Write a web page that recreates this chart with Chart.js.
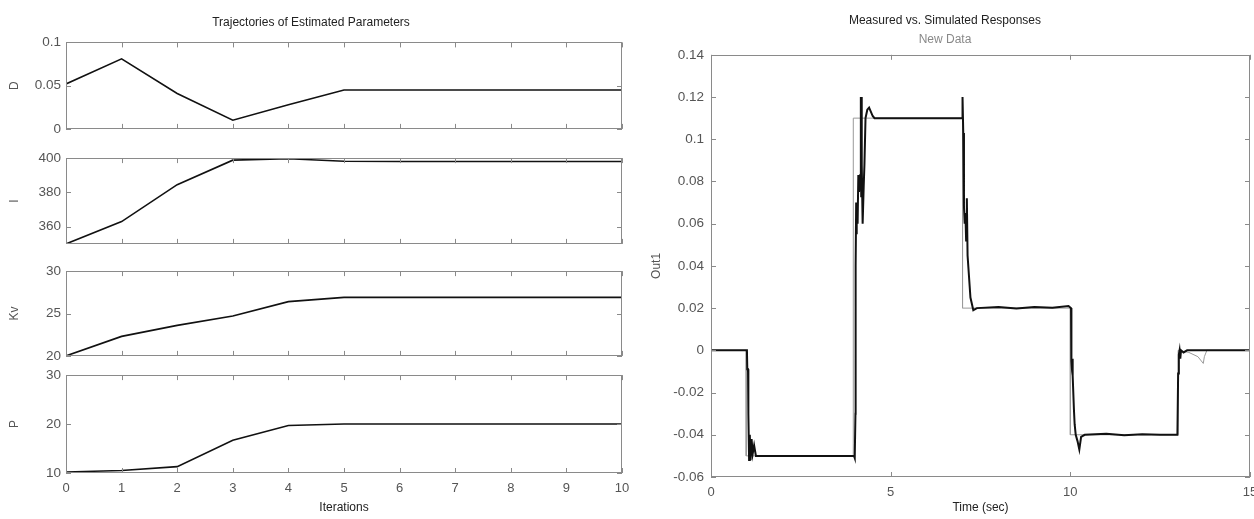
<!DOCTYPE html>
<html>
<head>
<meta charset="utf-8">
<script src="https://cdn.jsdelivr.net/npm/chart.js@4"></script>
<style>
  html, body { margin: 0; padding: 0; background: #fff; }
  body { width: 1254px; height: 519px; position: relative; overflow: hidden; }
  canvas { position: absolute; }
</style>
</head>
<body>
<canvas id="pD" width="640" height="142" style="left:0px;top:0px"></canvas>
<canvas id="pI" width="640" height="112" style="left:0px;top:145px"></canvas>
<canvas id="pKv" width="640" height="111" style="left:0px;top:258px"></canvas>
<canvas id="pP" width="640" height="157" style="left:0px;top:362px"></canvas>
<canvas id="resp" width="614" height="519" style="left:640px;top:0px"></canvas>
<script>
'use strict';

// --- datos ---
const ITERATIONS = [0, 1, 2, 3, 4, 5, 6, 7, 8, 9, 10];
const D_VALUES = [0.052, 0.081, 0.041, 0.010, 0.028, 0.045, 0.045, 0.045, 0.045, 0.045, 0.045];
const I_VALUES = [350, 363, 384.5, 398.8, 399.6, 398.2, 398, 398, 398, 398, 398];
const KV_VALUES = [20, 22.3, 23.6, 24.7, 26.4, 26.9, 26.9, 26.9, 26.9, 26.9, 26.9];
const P_VALUES = [10.2, 10.5, 11.3, 16.7, 19.7, 20, 20, 20, 20, 20, 20];

const D_TICKS = [0, 0.05, 0.1];
const I_TICKS = [360, 380, 400];
const KV_TICKS = [20, 25, 30];
const P_TICKS = [10, 20, 30];
const ITER_TICKS = [0, 1, 2, 3, 4, 5, 6, 7, 8, 9, 10];

// respuesta medida (escalón, gris fino)
const MEAS_T = [0, 0.98, 0.98, 3.96, 3.96, 7.0, 7.0, 10.0, 10.0, 13.0, 13.0, 13.3, 13.55, 13.7, 13.73, 13.8, 15];
const MEAS_Y = [0, 0, -0.05, -0.05, 0.11, 0.11, 0.02, 0.02, -0.04, -0.04, 0, -0.001, -0.003, -0.0062, -0.003, 0, 0];

// respuesta simulada (negro, con oscilaciones)
const SIM_T = [0, 1.0, 1.01, 1.03, 1.04, 1.06, 1.08, 1.1, 1.13, 1.16, 1.2, 1.25, 1.3, 2, 3, 3.98, 4.0,
  4.02, 4.02, 4.03, 4.04, 4.05, 4.06, 4.08, 4.1, 4.12, 4.15, 4.17, 4.18, 4.19, 4.2, 4.22, 4.25, 4.27, 4.3, 4.35, 4.4, 4.5, 4.55,
  7.0, 7.0, 7.02, 7.04, 7.06, 7.08, 7.1, 7.12, 7.14, 7.18, 7.22, 7.3, 7.4, 8.0, 8.5, 9.0, 9.5, 9.95, 10.02,
  10.03, 10.05, 10.06, 10.07, 10.1, 10.12, 10.15, 10.2, 10.25, 10.3, 10.4, 11, 11.5, 12, 12.5, 12.98,
  13.0, 13.02, 13.04, 13.06, 13.08, 13.15, 13.25, 15];
const SIM_Y = [0, 0, -0.009, -0.009, -0.03, -0.052, -0.04, -0.052, -0.042, -0.049, -0.045, -0.05, -0.05, -0.05, -0.05, -0.05, -0.051,
  -0.03, 0.016, 0.04, 0.07, 0.055, 0.07, 0.06, 0.083, 0.075, 0.083, 0.12, 0.073, 0.12, 0.088, 0.06, 0.078, 0.088, 0.11, 0.114, 0.115, 0.111, 0.11,
  0.11, 0.12, 0.103, 0.068, 0.06, 0.065, 0.052, 0.072, 0.045, 0.035, 0.025, 0.019, 0.02, 0.0205, 0.0198, 0.0205, 0.0202, 0.021, 0.02,
  -0.005, -0.01, -0.004, -0.012, -0.028, -0.035, -0.04, -0.043, -0.047, -0.041, -0.04, -0.0395, -0.0402, -0.0398, -0.04, -0.04,
  -0.011, -0.002, 0.0, -0.004, 0.0, -0.001, 0, 0];

const RESP_Y_TICKS = [-0.06, -0.04, -0.02, 0, 0.02, 0.04, 0.06, 0.08, 0.1, 0.12, 0.14];
const RESP_X_TICKS = [0, 5, 10, 15];

// --- estilo ---
const FONT = 'Liberation Sans, Arial, sans-serif';
const FRAME_COLOR = '#8a8a8a';
const LABEL_COLOR = '#555';
const LINE_COLOR = '#111';

Chart.defaults.font.family = FONT;
Chart.defaults.animation = false;

// marco y ticks hacia dentro, estilo MATLAB
const frameTicks = {
  id: 'frameTicks',
  afterDatasetsDraw(chart) {
    const { ctx, chartArea: a, scales } = chart;
    ctx.save();
    ctx.strokeStyle = FRAME_COLOR;
    ctx.lineWidth = 1;
    ctx.strokeRect(Math.round(a.left) + 0.5, Math.round(a.top) + 0.5, Math.round(a.right - a.left) - 1, Math.round(a.bottom - a.top) - 1);
    ctx.beginPath();
    scales.x.ticks.forEach((t) => {
      const px = Math.round(scales.x.getPixelForValue(t.value)) + 0.5;
      ctx.moveTo(px, a.bottom); ctx.lineTo(px, a.bottom - 5);
      ctx.moveTo(px, a.top); ctx.lineTo(px, a.top + 5);
    });
    scales.y.ticks.forEach((t) => {
      const py = Math.round(scales.y.getPixelForValue(t.value)) + 0.5;
      ctx.moveTo(a.left, py); ctx.lineTo(a.left + 5, py);
      ctx.moveTo(a.right, py); ctx.lineTo(a.right - 5, py);
    });
    ctx.stroke();
    ctx.restore();
  },
};

const fmt = (v) => String(+Number(v).toFixed(4));
const fixedTicks = (arr) => (scale) => { scale.ticks = arr.map((v) => ({ value: v })); };
// altura fija del eje x, sin reservar hueco por las etiquetas de los extremos
const fixedXHeight = (h) => (s) => { s.height = h; s.paddingLeft = 0; s.paddingRight = 0; };

function toPoints(xs, ys) {
  return xs.map((x, i) => ({ x, y: ys[i] }));
}

function paramPanel(id, label, values, yMin, yMax, yTicks, opts = {}) {
  const showX = !!opts.showX;
  return new Chart(document.getElementById(id), {
    type: 'scatter',
    data: {
      datasets: [{
        data: toPoints(ITERATIONS, values),
        showLine: true,
        borderColor: LINE_COLOR,
        borderWidth: 1.6,
        pointRadius: 0,
        tension: 0,
      }],
    },
    options: {
      responsive: false,
      layout: { padding: { top: opts.padTop ?? 10, bottom: showX ? 0 : 10, right: 18, left: 0 } },
      plugins: {
        legend: { display: false },
        tooltip: { enabled: false },
        title: opts.title
          ? { display: true, text: opts.title, color: '#222', font: { size: 12, weight: 'normal' }, padding: { top: 15, bottom: 13 } }
          : { display: false },
      },
      scales: {
        x: {
          type: 'linear', min: 0, max: 10,
          afterBuildTicks: fixedTicks(ITER_TICKS),
          afterFit: fixedXHeight(showX ? 46 : 0),
          grid: { display: false }, border: { display: false },
          ticks: { display: showX, color: LABEL_COLOR, font: { size: 13 }, padding: 0, maxRotation: 0 },
          title: { display: showX, text: 'Iterations', color: '#222', font: { size: 12 }, padding: { top: 7 } },
        },
        y: {
          min: yMin, max: yMax,
          afterBuildTicks: fixedTicks(yTicks),
          afterFit: (s) => { s.width = 66; },
          grid: { display: false, drawTicks: false }, border: { display: false },
          ticks: { color: LABEL_COLOR, font: { size: 13.5 }, padding: 5, callback: fmt },
          title: { display: true, text: label, color: LABEL_COLOR, font: { size: 12 }, padding: { top: 7, bottom: 0 } },
        },
      },
    },
    plugins: [frameTicks],
  });
}

paramPanel('pD', 'D', D_VALUES, 0, 0.1, D_TICKS, { title: 'Trajectories of Estimated Parameters', padTop: 0 });
paramPanel('pI', 'I', I_VALUES, 350, 400, I_TICKS);
paramPanel('pKv', 'Kv', KV_VALUES, 20, 30, KV_TICKS);
paramPanel('pP', 'P', P_VALUES, 10, 30, P_TICKS, { showX: true });

new Chart(document.getElementById('resp'), {
  type: 'scatter',
  data: {
    datasets: [
      {
        label: 'Measured',
        data: toPoints(MEAS_T, MEAS_Y),
        showLine: true,
        borderColor: '#9a9a9a',
        borderWidth: 1,
        pointRadius: 0,
        order: 2,
      },
      {
        label: 'Simulated',
        data: toPoints(SIM_T, SIM_Y),
        showLine: true,
        borderColor: LINE_COLOR,
        borderWidth: 2,
        pointRadius: 0,
        order: 1,
      },
    ],
  },
  options: {
    responsive: false,
    layout: { padding: { top: 0, bottom: 0, right: 4, left: 0 } },
    plugins: {
      legend: { display: false },
      tooltip: { enabled: false },
      title: { display: true, text: 'Measured vs. Simulated Responses', color: '#222', font: { size: 12, weight: 'normal' }, padding: { top: 13, bottom: 5 } },
      subtitle: { display: true, text: 'New Data', color: '#888', font: { size: 12 }, padding: { top: 0, bottom: 8 } },
    },
    scales: {
      x: {
        type: 'linear', min: 0, max: 15,
        afterBuildTicks: fixedTicks(RESP_X_TICKS),
        afterFit: fixedXHeight(42),
        grid: { display: false }, border: { display: false },
        ticks: { color: LABEL_COLOR, font: { size: 13 }, padding: 0, maxRotation: 0 },
        title: { display: true, text: 'Time (sec)', color: '#222', font: { size: 12 }, padding: { top: 6 } },
      },
      y: {
        min: -0.06, max: 0.14,
        afterBuildTicks: fixedTicks(RESP_Y_TICKS),
        afterFit: (s) => { s.width = 71; },
        grid: { display: false, drawTicks: false }, border: { display: false },
        ticks: { color: LABEL_COLOR, font: { size: 13.5 }, padding: 7, callback: fmt },
        title: { display: true, text: 'Out1', color: LABEL_COLOR, font: { size: 12 }, padding: { top: 9, bottom: 0 } },
      },
    },
  },
  plugins: [frameTicks],
});
</script>
</body>
</html>
